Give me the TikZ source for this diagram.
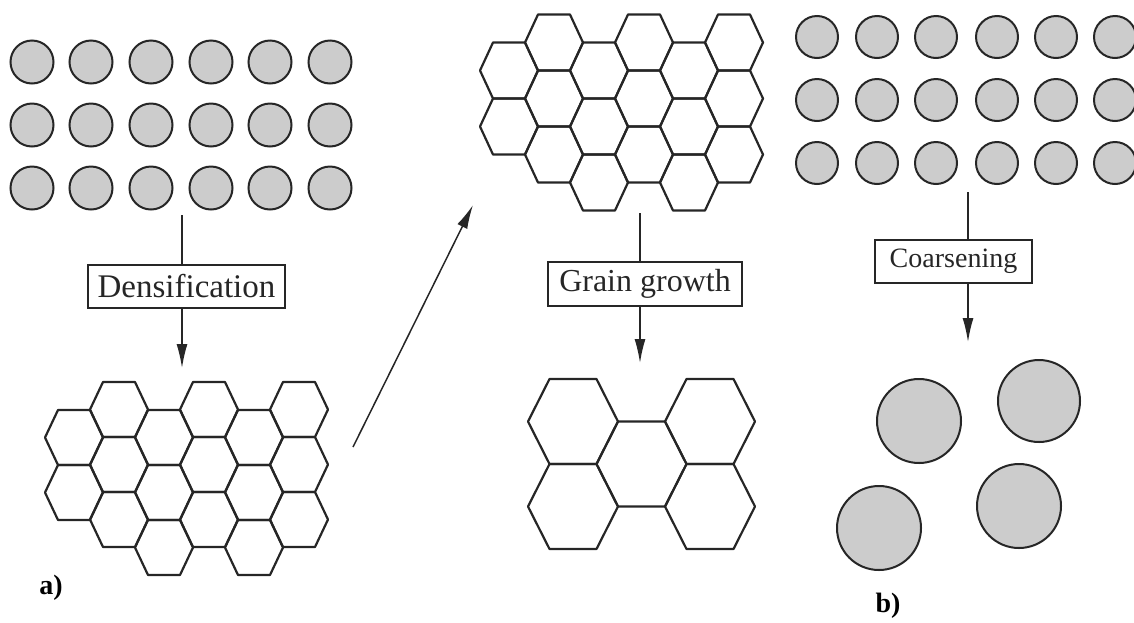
\documentclass[tikz,border=0pt]{standalone}
\usepackage{fontspec}
\setmainfont{Liberation Serif}
\usetikzlibrary{arrows.meta}
\tikzset{
  grain/.style={circle, draw=black!85, line width=2pt, fill=black!20, inner sep=0pt},
  hexline/.style={draw=black!85, line width=2.2pt, line join=round},
  labelbox/.style={draw=black!85, line width=1.7pt, inner sep=0pt, font=\fontsize{33}{33}\selectfont, text=black!85},
  flow/.style={draw=black!85, line width=1.5pt},
  flowarrow/.style={flow, -{Latex[length=24pt,width=11pt]}},
  panel/.style={font=\bfseries\fontsize{28}{28}\selectfont}
}
\newcommand{\myhex}[5]{% x y hw he hh
  \draw[hexline] ({#1-#3},{#2}) -- ({#1-#4},{#2-#5}) -- ({#1+#4},{#2-#5}) -- ({#1+#3},{#2}) -- ({#1+#4},{#2+#5}) -- ({#1-#4},{#2+#5}) -- cycle;}
\begin{document}
\begin{tikzpicture}[x=1pt,y=-1pt]
\useasboundingbox (0,0) rectangle (1134,622);

% left circle array
\foreach \cx [count=\i] in {32,91,151,211,270,330}
  \foreach \cy [count=\j] in {62,125,188}
    \node[grain, minimum size=43pt] (L-\i-\j) at (\cx,\cy) {};

% right circle array
\foreach \cx [count=\i] in {817,877,936,997,1056,1115}
  \foreach \cy [count=\j] in {37,100,163}
    \node[grain, minimum size=42pt] (R-\i-\j) at (\cx,\cy) {};

% left hexagon network (after densification)
\foreach \cx in {74} \foreach \cy in {437.5,492.5} {\myhex{\cx}{\cy}{29}{16}{27.5}}
\foreach \cx in {164,254} \foreach \cy in {437.5,492.5,547.5} {\myhex{\cx}{\cy}{29}{16}{27.5}}
\foreach \cx in {119,209,299} \foreach \cy in {409.5,464.5,519.5} {\myhex{\cx}{\cy}{29}{16}{27.5}}

% top-middle hexagon network
\foreach \cx in {509} \foreach \cy in {70.5,126.5} {\myhex{\cx}{\cy}{29}{16}{28}}
\foreach \cx in {599,689} \foreach \cy in {70.5,126.5,182.5} {\myhex{\cx}{\cy}{29}{16}{28}}
\foreach \cx in {554,644,734} \foreach \cy in {42.5,98.5,154.5} {\myhex{\cx}{\cy}{29}{16}{28}}

% grown grains
\foreach \cy in {421.5,506.5} {\myhex{573}{\cy}{45}{23.5}{42.5}}
\myhex{641.5}{464}{45}{23.5}{42.5}
\foreach \cy in {421.5,506.5} {\myhex{710}{\cy}{45}{23.5}{42.5}}

% coarsened particles
\node[grain, minimum size=84pt] (C1) at (919,421) {};
\node[grain, minimum size=82pt] (C2) at (1039,401) {};
\node[grain, minimum size=84pt] (C3) at (879,528) {};
\node[grain, minimum size=84pt] (C4) at (1019,506) {};

% densification
\coordinate (dS) at (182,215);
\node[labelbox, minimum width=197pt, minimum height=43pt] (dens) at (186.5,286.5) {Densification};
\coordinate (dE) at (182,368);
\draw[flow] (dS) -- (dS |- dens.north);
\draw[flowarrow] (dS |- dens.south) -- (dE);

% grain growth
\coordinate (gS) at (640,213);
\node[labelbox, minimum width=194pt, minimum height=44pt, font=\fontsize{32}{32}\selectfont] (grow) at (645,284) {Grain growth};
\coordinate (gE) at (640,363);
\draw[flow] (gS) -- (gS |- grow.north);
\draw[flowarrow] (gS |- grow.south) -- (gE);

% coarsening
\coordinate (cS) at (968,192);
\node[labelbox, minimum width=157pt, minimum height=43pt, font=\fontsize{28}{28}\selectfont] (coar) at (953.5,261.5) {Coarsening};
\coordinate (cE) at (968,342);
\draw[flow] (cS) -- (cS |- coar.north);
\draw[flowarrow] (cS |- coar.south) -- (cE);

% diagonal arrow
\coordinate (aS) at (353,447);
\coordinate (aE) at (473,205);
\draw[flowarrow] (aS) -- (aE);

% panel labels
\node[panel] (pa) at (51,588) {a)};
\node[panel] (pb) at (888,606) {b)};
\end{tikzpicture}
\end{document}
